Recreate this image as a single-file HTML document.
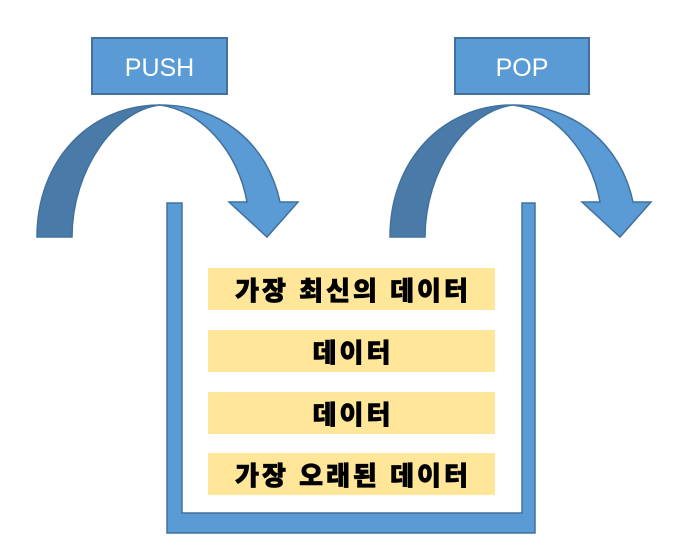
<!DOCTYPE html>
<html><head><meta charset="utf-8"><style>
html,body{margin:0;padding:0;background:#fff;}
body{width:697px;height:553px;position:relative;overflow:hidden;}
svg{position:absolute;left:0;top:0;}
.k{font-family:"Liberation Sans","Noto Sans CJK KR",sans-serif;font-weight:900;font-size:26px;fill:#000;stroke:#000;stroke-width:0.7;letter-spacing:3px;}
.w{font-family:"Liberation Sans",sans-serif;font-size:25px;fill:#fff;}
</style></head><body>
<svg width="697" height="553" viewBox="0 0 697 553">
<defs>
<g id="arc">
 <path d="M37,237 C37,160 90,105 160,105 C115,110 72,170 72,237 Z" fill="#4a7aa8" stroke="#41719c" stroke-width="1.5"/>
 <path d="M160,105 C222,105 268,145 280,202 L298,202 L267,237 L229,202 L247,202 C238,150 200,110 160,105 Z" fill="#5b9bd5" stroke="#41719c" stroke-width="1.5"/>
</g>
</defs>
<use href="#arc"/>
<use href="#arc" x="353"/>
<rect x="92" y="38" width="135" height="56" fill="#5b9bd5" stroke="#41719c" stroke-width="2"/>
<text x="159.5" y="76" text-anchor="middle" class="w">PUSH</text>
<rect x="455" y="38" width="134" height="56" fill="#5b9bd5" stroke="#41719c" stroke-width="2"/>
<text x="522" y="76" text-anchor="middle" class="w">POP</text>
<path d="M167,203 L182,203 L182,513 L522,513 L522,203 L535,203 L535,533 L167,533 Z" fill="#5b9bd5" stroke="#41719c" stroke-width="1.5"/>
<rect x="208" y="268" width="287" height="42" fill="#ffe699"/>
<rect x="208" y="330" width="287" height="42" fill="#ffe699"/>
<rect x="208" y="392" width="287" height="42" fill="#ffe699"/>
<rect x="208" y="453" width="287" height="42" fill="#ffe699"/>
<text x="353" y="300" text-anchor="middle" class="k">가장 최신의 데이터</text>
<text x="353" y="362" text-anchor="middle" class="k">데이터</text>
<text x="353" y="424" text-anchor="middle" class="k">데이터</text>
<text x="353" y="485" text-anchor="middle" class="k">가장 오래된 데이터</text>
</svg>
</body></html>
